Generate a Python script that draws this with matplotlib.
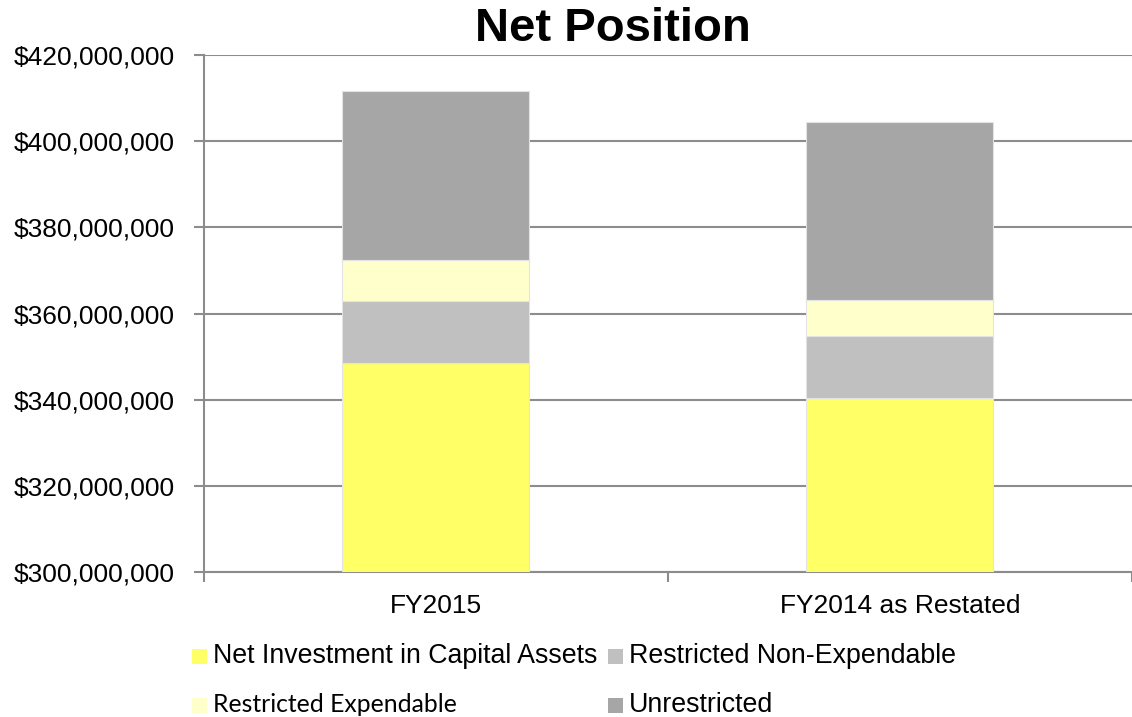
import matplotlib
matplotlib.use("Agg")
import matplotlib.pyplot as plt
from matplotlib.patches import Rectangle
from matplotlib.ticker import FuncFormatter, FixedLocator
import numpy as np

categories = ["FY2015", "FY2014 as Restated"]
series_names = ["Net Investment in Capital Assets", "Restricted Non-Expendable",
                "Restricted Expendable", "Unrestricted"]
net_investment = [348.5e6, 340.4e6]
restricted_nonexp = [14.4e6, 14.4e6]
restricted_exp = [9.5e6, 8.3e6]
unrestricted = [39.3e6, 41.4e6]
colors = ["#FFFF66", "#C0C0C0", "#FFFFCC", "#A6A6A6"]

plt.rcParams['font.family'] = ['Liberation Sans', 'DejaVu Sans']

fig = plt.figure(figsize=(11.32, 7.17), dpi=100)
ax = fig.add_axes([0.1802, 0.2022, 0.8198, 0.7211])

x = np.arange(len(categories))
series = [net_investment, restricted_nonexp, restricted_exp, unrestricted]
bottom = np.zeros(len(categories))
for vals, c in zip(series, colors):
    ax.bar(x, vals, bottom=bottom, width=0.403, color=c, edgecolor="#E3E3E3",
           linewidth=0.8, zorder=3)
    bottom = bottom + np.array(vals)

ax.set_ylim(300e6, 420e6)
ax.set_xlim(-0.5, 1.5)
ax.set_yticks(np.arange(300e6, 420e6 + 1, 20e6))
ax.yaxis.set_major_formatter(FuncFormatter(lambda v, p: "${:,.0f}".format(v)))
ax.grid(axis="y", color="#8C8C8C", linewidth=1.5, zorder=0)
ax.set_xticks(x)
ax.set_xticklabels(categories)
ax.xaxis.set_minor_locator(FixedLocator([-0.5, 0.5, 1.5]))
ax.tick_params(axis="x", which="major", length=0, pad=16, labelsize=19)
ax.tick_params(axis="x", which="minor", length=7, width=1.5, color="#8C8C8C")
ax.tick_params(axis="y", length=7, width=1.5, color="#8C8C8C", labelsize=19, pad=14)
for s in ["top", "right"]:
    ax.spines[s].set_visible(False)
for s in ["left", "bottom"]:
    ax.spines[s].set_color("#8C8C8C")
    ax.spines[s].set_linewidth(1.5)

fig.text(0.5415, 0.959, "Net Position", ha="center", va="center",
         fontsize=34, fontweight="bold")

# legend
leg_items = [
    (0, 0, series_names[0], colors[0], "Liberation Sans", 19.3),
    (1, 0, series_names[1], colors[1], "Liberation Sans", 19.3),
    (0, 1, series_names[2], colors[2], "Lato", 17.8),
    (1, 1, series_names[3], colors[3], "Liberation Sans", 19.3),
]
col_x = [192 / 1132, 608 / 1132]
row_y = [656 / 717, 705 / 717]
sq_w, sq_h = 15 / 1132, 15 / 717
for col, row, name, c, fam, fs in leg_items:
    xx = col_x[col]
    yy = 1 - row_y[row]
    fig.add_artist(Rectangle((xx, yy - sq_h / 2), sq_w, sq_h, transform=fig.transFigure,
                             facecolor=c, edgecolor="none"))
    fig.text(xx + 21 / 1132, yy, name, ha="left", va="center", fontsize=fs,
             family=[fam, "DejaVu Sans"])

fig.savefig("out.png", dpi=100)
